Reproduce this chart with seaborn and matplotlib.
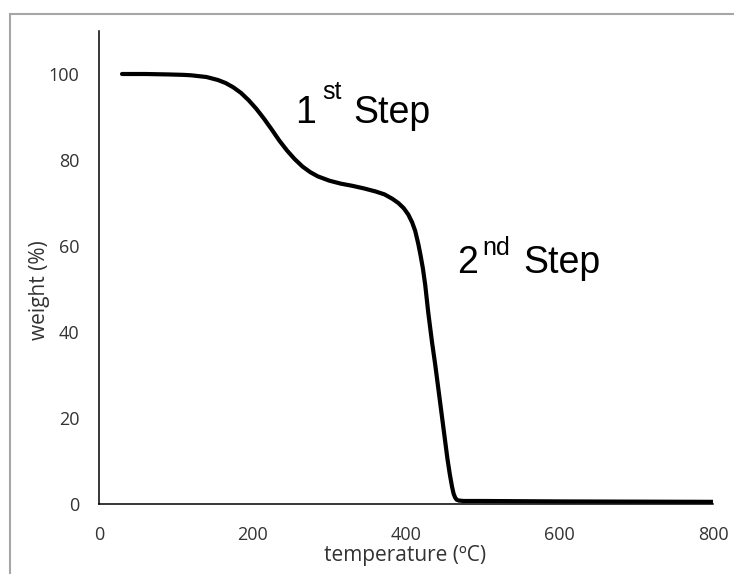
import matplotlib
matplotlib.use("Agg")
import matplotlib.pyplot as plt
from matplotlib.patches import Rectangle
import seaborn as sns
import pandas as pd

# Data
temperature = [30, 60, 90, 110, 120, 140, 155, 165, 175, 185, 195, 205, 215,
               225, 235, 245, 255, 265, 275, 285, 300, 315, 330, 345, 360, 372,
               382, 390, 397, 403, 408, 412, 416, 419, 422, 425, 429, 434, 438,
               442, 446, 450, 454, 457, 460, 462, 464, 466, 469, 475, 500, 600,
               700, 800]
weight = [100.0, 100.0, 99.9, 99.8, 99.7, 99.3, 98.6, 97.9, 96.9, 95.6, 93.9,
          91.9, 89.6, 87.1, 84.5, 82.2, 80.2, 78.5, 77.2, 76.2, 75.2, 74.5,
          74.0, 73.4, 72.7, 72.0, 71.0, 70.0, 68.8, 67.3, 65.5, 63.5, 60.5,
          57.8, 54.8, 51.0, 44.5, 37.5, 32.5, 27.0, 21.5, 16.0, 10.5, 7.0,
          4.0, 2.4, 1.5, 1.0, 0.8, 0.7, 0.7, 0.6, 0.55, 0.5]
x_ticks = [0, 200, 400, 600, 800]
y_ticks = [0, 20, 40, 60, 80, 100]
x_label = "temperature (ºC)"
y_label = "weight (%)"

df = pd.DataFrame({"temperature": temperature, "weight": weight})

sns.set_theme(style="white")
plt.rcParams["font.family"] = ["Open Sans", "DejaVu Sans"]

fig = plt.figure(figsize=(7.34, 5.74), dpi=100)
ax = fig.add_axes([99 / 734, 1 - 504 / 574, 614 / 734, 473 / 574])

sns.lineplot(data=df, x="temperature", y="weight", ax=ax, color="black",
             linewidth=3.0, solid_capstyle="round", solid_joinstyle="round")

ax.set_xlim(0, 800)
ax.set_ylim(0, 110)
ax.set_xticks(x_ticks)
ax.set_yticks(y_ticks)
ax.set_xticklabels([str(t) for t in x_ticks])
ax.set_yticklabels([str(t) for t in y_ticks])

for side in ["top", "right"]:
    ax.spines[side].set_visible(False)
for side in ["left", "bottom"]:
    ax.spines[side].set_color("black")
    ax.spines[side].set_linewidth(1.1)

ax.tick_params(axis="both", length=0, labelsize=13, labelcolor="#333333")
ax.tick_params(axis="x", pad=16)
ax.tick_params(axis="y", pad=14)

ax.set_xlabel(x_label, fontsize=15, color="#333333")
ax.set_ylabel(y_label, fontsize=15, color="#333333")
ax.xaxis.set_label_coords(0.498, -0.086)
ax.yaxis.set_label_coords(-0.08, 0.452)

ann_font = ["Liberation Sans", "DejaVu Sans"]
# 1st Step
ax.text(256, 88.5, "1", fontsize=27, family=ann_font, color="black", ha="left", va="baseline")
ax.text(291, 94.3, "st", fontsize=18, family=ann_font, color="black", ha="left", va="baseline")
ax.text(332, 88.5, "Step", fontsize=27, family=ann_font, color="black", ha="left", va="baseline")
# 2nd Step
ax.text(466, 53.7, "2", fontsize=27, family=ann_font, color="black", ha="left", va="baseline")
ax.text(499, 57.9, "nd", fontsize=18, family=ann_font, color="black", ha="left", va="baseline")
ax.text(553, 53.7, "Step", fontsize=27, family=ann_font, color="black", ha="left", va="baseline")

# Outer gray frame (top and left edges visible)
fig.add_artist(Rectangle((9.5 / 734, -0.1), 2.0, 1 - 14 / 574 + 0.1,
                         transform=fig.transFigure, fill=False,
                         edgecolor="#a6a6a6", linewidth=1.5))

fig.savefig("out.png", dpi=100)
